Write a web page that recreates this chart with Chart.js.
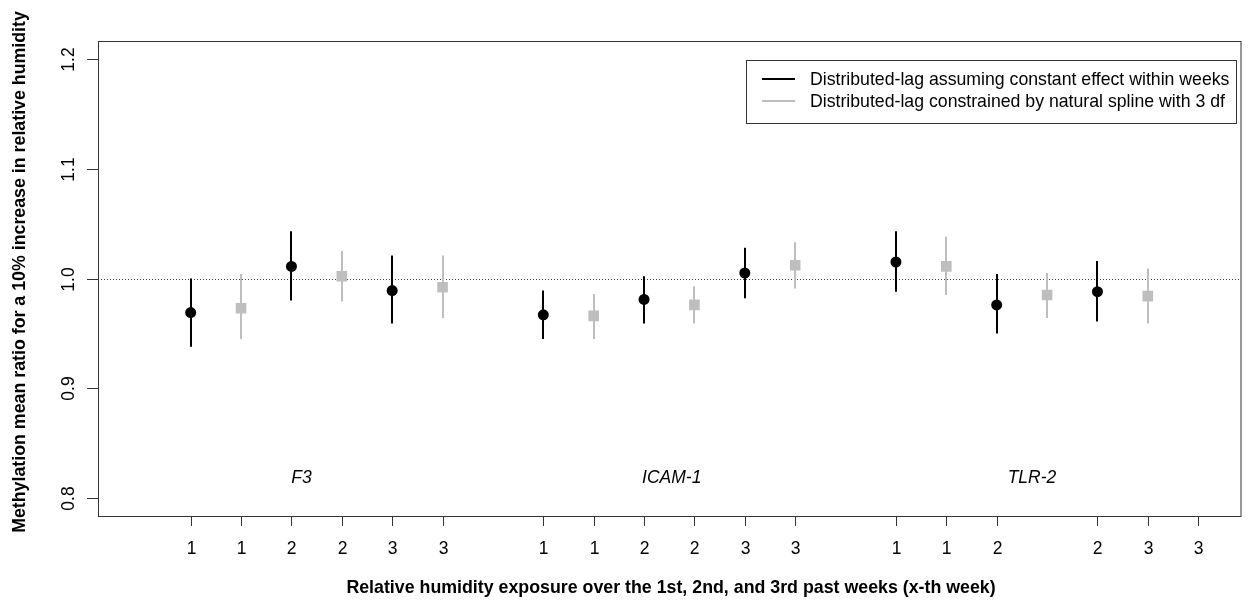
<!DOCTYPE html>
<html>
<head>
<meta charset="utf-8">
<script src="https://cdn.jsdelivr.net/npm/chart.js@4.4.1/dist/chart.umd.min.js"></script>
<style>
  html, body { margin: 0; padding: 0; background: #fff; }
  #wrap { width: 1248px; height: 604px; }
</style>
</head>
<body>
<div id="wrap"><canvas id="chart" width="1248" height="604"></canvas></div>
<script>
/* ── Data ── */
const blackX   = [1, 3, 5, 8, 10, 12, 15, 17, 19];
const blackEst = [0.969, 1.011, 0.989, 0.967, 0.981, 1.005, 1.015, 0.976, 0.988];
const blackLo  = [0.938, 0.980, 0.959, 0.945, 0.959, 0.982, 0.988, 0.950, 0.961];
const blackHi  = [1.000, 1.043, 1.021, 0.989, 1.002, 1.028, 1.043, 1.004, 1.016];

const grayX   = [2, 4, 6, 9, 11, 13, 16, 18, 20];
const grayEst = [0.973, 1.002, 0.992, 0.966, 0.976, 1.012, 1.011, 0.985, 0.984];
const grayLo  = [0.945, 0.979, 0.964, 0.945, 0.959, 0.991, 0.985, 0.964, 0.959];
const grayHi  = [1.004, 1.025, 1.021, 0.986, 0.993, 1.033, 1.038, 1.005, 1.009];

// x-axis ticks (the original skips position 18 in the last group)
const xTickPos    = [1, 2, 3, 4, 5, 6, 8, 9, 10, 11, 12, 13, 15, 16, 17, 19, 20, 21];
const xTickLabels = ['1','1','2','2','3','3','1','1','2','2','3','3','1','1','2','2','3','3'];
const yTicks      = [0.8, 0.9, 1.0, 1.1, 1.2];

const geneNames = ['F3', 'ICAM-1', 'TLR-2'];
const geneX     = [3.2, 10.55, 17.7];
const geneY     = 0.818;

const legendLabels = [
  'Distributed-lag assuming constant effect within weeks',
  'Distributed-lag constrained by natural spline with 3 df'
];

const BLACK = '#000000';
const GRAY  = '#BEBEBE';
const FONT  = '"Liberation Sans", Arial, sans-serif';

const toPts = (xs, ys) => xs.map((x, i) => ({ x, y: ys[i] }));

/* ── Error bars + reference line, drawn under the points ── */
const errorBars = {
  id: 'errorBars',
  beforeDatasetsDraw(chart) {
    const { ctx, chartArea: a, scales: { x, y } } = chart;
    ctx.save();
    // dotted line at 1.0
    const y1 = Math.round(y.getPixelForValue(1.0)) + 0.5;
    ctx.strokeStyle = '#444';
    ctx.lineWidth = 1;
    ctx.setLineDash([1, 2]);
    ctx.beginPath();
    ctx.moveTo(a.left, y1);
    ctx.lineTo(a.right, y1);
    ctx.stroke();
    ctx.setLineDash([]);

    const bars = (xs, lo, hi, col) => {
      ctx.strokeStyle = col;
      ctx.lineWidth = 2;
      xs.forEach((v, i) => {
        const px = Math.round(x.getPixelForValue(v));
        ctx.beginPath();
        ctx.moveTo(px, y.getPixelForValue(lo[i]));
        ctx.lineTo(px, y.getPixelForValue(hi[i]));
        ctx.stroke();
      });
    };
    bars(blackX, blackLo, blackHi, BLACK);
    bars(grayX, grayLo, grayHi, GRAY);
    ctx.restore();
  }
};

/* ── Base-R style frame, axes, labels and legend ── */
const frame = {
  id: 'frame',
  afterDraw(chart) {
    const { ctx, chartArea: a, scales: { x, y } } = chart;
    ctx.save();
    ctx.strokeStyle = '#333';
    ctx.lineWidth = 1;
    ctx.strokeRect(a.left + 0.5, a.top + 0.5, a.right - a.left, a.bottom - a.top);

    // x ticks
    ctx.fillStyle = '#000';
    ctx.font = '17.5px ' + FONT;
    ctx.textAlign = 'center';
    ctx.textBaseline = 'middle';
    xTickPos.forEach((v, i) => {
      const px = Math.round(x.getPixelForValue(v)) + 0.5;
      ctx.beginPath();
      ctx.moveTo(px, a.bottom);
      ctx.lineTo(px, a.bottom + 10);
      ctx.stroke();
      ctx.fillText(xTickLabels[i], px, 549);
    });

    // y ticks (labels parallel to axis)
    yTicks.forEach(v => {
      const py = Math.round(y.getPixelForValue(v)) + 0.5;
      ctx.beginPath();
      ctx.moveTo(a.left - 11, py);
      ctx.lineTo(a.left, py);
      ctx.stroke();
      ctx.save();
      ctx.translate(69, py);
      ctx.rotate(-Math.PI / 2);
      ctx.fillText(v.toFixed(1), 0, 0);
      ctx.restore();
    });

    // axis titles
    ctx.font = 'bold 17.8px ' + FONT;
    ctx.fillText('Relative humidity exposure over the 1st, 2nd, and 3rd past weeks (x-th week)', 671, 588);
    ctx.save();
    ctx.translate(20, 272);
    ctx.rotate(-Math.PI / 2);
    ctx.fillText('Methylation mean ratio for a 10% increase in relative humidity', 0, 0);
    ctx.restore();

    // gene names
    ctx.font = 'italic 17.5px ' + FONT;
    geneNames.forEach((g, i) => {
      ctx.fillText(g, x.getPixelForValue(geneX[i]), y.getPixelForValue(geneY));
    });

    // legend
    const lx = 746.5, ly = 60.5, lw = 490, lh = 63;
    ctx.fillStyle = '#fff';
    ctx.fillRect(lx, ly, lw, lh);
    ctx.strokeStyle = '#333';
    ctx.lineWidth = 1;
    ctx.strokeRect(lx, ly, lw, lh);
    const rows = [79, 101];
    const cols = [BLACK, GRAY];
    ctx.font = '17.7px ' + FONT;
    ctx.textAlign = 'left';
    ctx.fillStyle = '#000';
    rows.forEach((ry, i) => {
      ctx.strokeStyle = cols[i];
      ctx.lineWidth = 2;
      ctx.beginPath();
      ctx.moveTo(762, ry);
      ctx.lineTo(795, ry);
      ctx.stroke();
      ctx.fillText(legendLabels[i], 810, ry + 1);
    });
    ctx.restore();
  }
};

new Chart(document.getElementById('chart'), {
  type: 'scatter',
  data: {
    datasets: [
      {
        label: legendLabels[0],
        data: toPts(blackX, blackEst),
        pointStyle: 'circle',
        pointRadius: 5.5,
        backgroundColor: BLACK,
        borderColor: BLACK,
        borderWidth: 0
      },
      {
        label: legendLabels[1],
        data: toPts(grayX, grayEst),
        pointStyle: 'rect',
        pointRadius: 7.5,
        backgroundColor: GRAY,
        borderColor: GRAY,
        borderWidth: 0
      }
    ]
  },
  options: {
    responsive: false,
    animation: false,
    layout: { padding: { left: 98, right: 5, top: 41, bottom: 88 } },
    plugins: { legend: { display: false }, tooltip: { enabled: false } },
    scales: {
      x: { type: 'linear', min: -0.84, max: 21.84, display: false },
      y: { type: 'linear', min: 0.784, max: 1.216, display: false }
    }
  },
  plugins: [errorBars, frame]
});
</script>
</body>
</html>
